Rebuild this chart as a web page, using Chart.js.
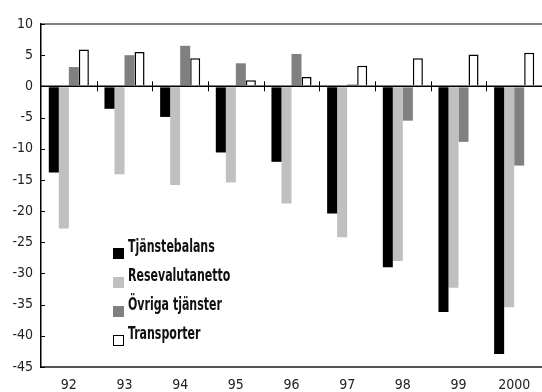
<!DOCTYPE html>
<html>
<head>
<meta charset="utf-8">
<script src="https://cdn.jsdelivr.net/npm/chart.js@4/dist/chart.umd.min.js"></script>
<style>
  body { margin: 0; background: #fff; }
  #wrap { width: 542px; height: 392px; position: relative; }
</style>
</head>
<body>
<div id="wrap"><canvas id="myChart"></canvas></div>
<script>
const years = ["92", "93", "94", "95", "96", "97", "98", "99", "2000"];
const tjanstebalans = [-13.8, -3.6, -4.9, -10.6, -12.1, -20.4, -29.0, -36.2, -42.9];
const resevalutanetto = [-22.8, -14.1, -15.8, -15.4, -18.8, -24.2, -28.0, -32.3, -35.4];
const ovrigaTjanster = [3.1, 5.0, 6.5, 3.7, 5.2, 0.3, -5.5, -8.9, -12.7];
const transporter = [5.9, 5.5, 4.5, 1.0, 1.5, 3.3, 4.5, 5.1, 5.4];
const yTicks = [10, 5, 0, -5, -10, -15, -20, -25, -30, -35, -40, -45];

const fontFamily = "'Liberation Sans Narrow', 'DejaVu Sans Condensed', sans-serif";

// zero line, inward y ticks, category separators and the legend box
const decorations = {
  id: "decorations",
  afterDatasetsDraw(chart) {
    const { ctx, chartArea, scales } = chart;
    const x = scales.x, y = scales.y;
    const y0 = y.getPixelForValue(0);
    ctx.save();
    ctx.strokeStyle = "#000";
    ctx.lineWidth = 1.5;
    ctx.beginPath();
    ctx.moveTo(chartArea.left, y0);
    ctx.lineTo(chartArea.right, y0);
    ctx.stroke();

    ctx.lineWidth = 1;
    for (let i = 0; i < years.length - 1; i++) {
      const bx = Math.round((x.getPixelForValue(i) + x.getPixelForValue(i + 1)) / 2) + 0.5;
      ctx.beginPath();
      ctx.moveTo(bx, y0 - 5);
      ctx.lineTo(bx, y0 + 5);
      ctx.stroke();
    }
    yTicks.forEach(v => {
      const py = Math.round(y.getPixelForValue(v)) + 0.5;
      ctx.beginPath();
      ctx.moveTo(chartArea.left, py);
      ctx.lineTo(chartArea.left + 4, py);
      ctx.stroke();
    });

    // legend, text squeezed a little to look like a narrow face
    const lx = chartArea.left + 72;
    let ly = 248;
    ctx.font = "bold 17px " + fontFamily;
    ctx.textBaseline = "middle";
    chart.data.datasets.forEach(ds => {
      ctx.fillStyle = ds.backgroundColor;
      ctx.fillRect(lx, ly, 11, 11);
      if (ds.borderWidth) {
        ctx.strokeStyle = "#000";
        ctx.lineWidth = 1;
        ctx.strokeRect(lx + 0.5, ly + 0.5, 10, 10);
      }
      ctx.save();
      ctx.translate(lx + 15, ly);
      ctx.scale(0.72, 1);
      ctx.fillStyle = "#111";
      ctx.fillText(ds.label, 0, 0);
      ctx.restore();
      ly += 29;
    });
    ctx.restore();
  }
};

const data = {
  labels: years,
  datasets: [
    { label: "Tjänstebalans", data: tjanstebalans, backgroundColor: "#000000", borderWidth: 0 },
    { label: "Resevalutanetto", data: resevalutanetto, backgroundColor: "#c0c0c0", borderWidth: 0 },
    { label: "Övriga tjänster", data: ovrigaTjanster, backgroundColor: "#808080", borderWidth: 0 },
    { label: "Transporter", data: transporter, backgroundColor: "#ffffff", borderColor: "#000000", borderWidth: 1.5 },
  ],
};

const config = {
  type: "bar",
  data: data,
  options: {
    responsive: true,
    maintainAspectRatio: false,
    animation: false,
    layout: { padding: { top: 24, right: 0, left: 0, bottom: 0 } },
    datasets: {
      bar: { categoryPercentage: 0.72, barPercentage: 1.0 },
    },
    plugins: { legend: { display: false }, tooltip: { enabled: false } },
    scales: {
      x: {
        grid: { display: false },
        border: { color: "#555", width: 2 },
        ticks: {
          color: "#222",
          padding: 2,
          font: { family: fontFamily, size: 14 },
        },
        afterFit: scale => { scale.height = 25; },
      },
      y: {
        min: -45,
        max: 10,
        border: { color: "#000", width: 1.5 },
        grid: {
          drawTicks: false,
          color: ctx => (ctx.tick && ctx.tick.value === 10 ? "#808080" : "rgba(0,0,0,0)"),
          lineWidth: 2,
        },
        ticks: {
          stepSize: 5,
          color: "#222",
          padding: 8,
          font: { family: fontFamily, size: 14 },
        },
        afterFit: scale => { scale.width = 41; },
      },
    },
  },
  plugins: [decorations],
};

let myChart = new Chart(document.getElementById("myChart"), config);
</script>
</body>
</html>
